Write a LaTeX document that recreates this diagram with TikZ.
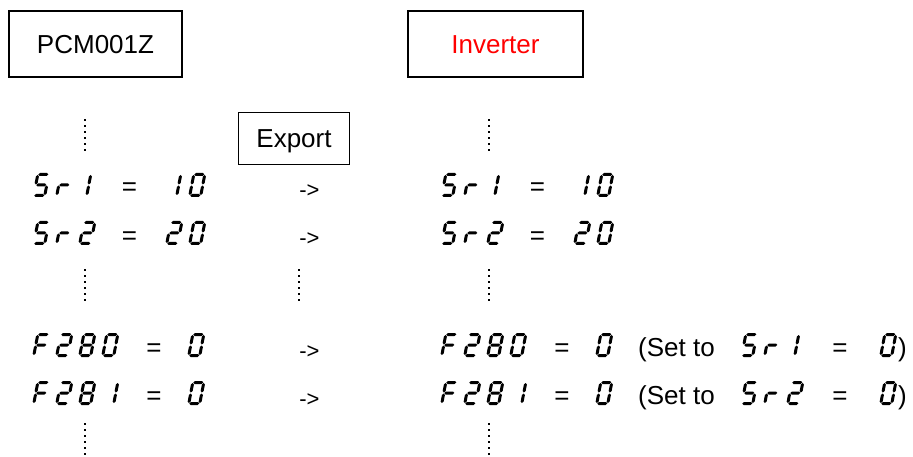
\documentclass[tikz,border=0pt]{standalone}
\usepackage{fontspec}
\setmainfont{Liberation Sans}
% seven-segment pieces (local units, y up, cell 14 x 24)
\newcommand\hsegm[3]{\fill (#1,#3) -- ({#1+1.5},{#3+1.5}) -- ({#2-1.5},{#3+1.5}) -- (#2,#3) -- ({#2-1.5},{#3-1.5}) -- ({#1+1.5},{#3-1.5}) -- cycle;}
\newcommand\vsegm[3]{\fill (#1,#2) -- ({#1+1.5},{#2+1.5}) -- ({#1+1.5},{#3-1.5}) -- (#1,#3) -- ({#1-1.5},{#3-1.5}) -- ({#1-1.5},{#2+1.5}) -- cycle;}
\newcommand\segparta{\hsegm{2.0}{12.0}{22.5}}
\newcommand\segpartb{\vsegm{12.5}{12.5}{22.0}}
\newcommand\segpartc{\vsegm{12.5}{2.0}{11.5}}
\newcommand\segpartd{\hsegm{2.0}{12.0}{1.5}}
\newcommand\segparte{\vsegm{1.5}{2.0}{11.5}}
\newcommand\segpartf{\vsegm{1.5}{12.5}{22.0}}
\newcommand\segpartg{\hsegm{2.0}{12.0}{12}}
\newcommand\sevseg[3]{\begin{scope}[shift={(#1,-#2)},xslant=0.19]\foreach \s in {#3}{\csname segpart\s\endcsname}\end{scope}}
\newcommand\segS[2]{\sevseg{#1}{#2}{a,f,g,c,d}}
\newcommand\segR[2]{\sevseg{#1}{#2}{e,g}}
\newcommand\segOne[2]{\sevseg{#1}{#2}{b,c}}
\newcommand\segTwo[2]{\sevseg{#1}{#2}{a,b,g,e,d}}
\newcommand\segZero[2]{\sevseg{#1}{#2}{a,b,c,d,e,f}}
\newcommand\segEight[2]{\sevseg{#1}{#2}{a,b,c,d,e,f,g}}
\newcommand\segF[2]{\sevseg{#1}{#2}{a,f,g,e}}
\newcommand\dotcol[2]{\foreach \k in {0,...,5}{\fill ({#1-1.3},{-(#2+6*\k-1.3)}) rectangle ++(2.6,-2.6);}}
\begin{document}
\begin{tikzpicture}[x=1pt,y=1pt,
  big/.style={font=\fontsize{26}{30}\selectfont},
  box/.style={big, draw, line width=2.2pt, minimum width=173pt, minimum height=66pt, inner sep=0pt, text height=18.6pt, text depth=0pt},
  smallbox/.style={big, draw, line width=1pt, minimum width=111pt, minimum height=52pt, inner sep=0pt, text height=18.6pt, text depth=0pt},
  eq/.style={big, anchor=base, inner sep=0pt},
  lbl/.style={big, anchor=base west, inner sep=0pt},
  arr/.style={font=\fontsize{22}{26}\selectfont, anchor=base, inner sep=0pt}]
\fill[white] (0,0) rectangle (913,-457);
\useasboundingbox (0,0) rectangle (913,-457);

\node[box] (pcm) at (95.5,-44) {PCM001Z};
\node[box, minimum width=175pt, text=red] (inv) at (495.5,-44) {Inverter};
\node[smallbox] (exp) at (294,-138.5) {Export};

% dotted columns
\dotcol{85}{120}
\dotcol{489}{120}
\dotcol{85}{270}
\dotcol{299}{270}
\dotcol{489}{270}
\dotcol{85}{424}
\dotcol{489}{424}

% row 1: Sr1 = 10
\segS{32}{197}\segR{55}{197}\segOne{74}{197}
\node[eq] (eqa) at (129.5,-196) {=};
\segOne{164}{197}\segZero{188}{197}
\node[arr] (arra) at (309.5,-198) {->};
\segS{440}{197}\segR{463}{197}\segOne{482}{197}
\node[eq] (eqar) at (537.5,-196) {=};
\segOne{572}{197}\segZero{596}{197}

% row 2: Sr2 = 20
\segS{32}{245}\segR{55}{245}\segTwo{78}{245}
\node[eq] (eqb) at (129.5,-244) {=};
\segTwo{165}{245}\segZero{188}{245}
\node[arr] (arrb) at (309.5,-246) {->};
\segS{440}{245}\segR{463}{245}\segTwo{486}{245}
\node[eq] (eqbr) at (537.5,-244) {=};
\segTwo{573}{245}\segZero{596}{245}

% row 3: F280 = 0
\segF{32}{357}\segTwo{55}{357}\segEight{78}{357}\segZero{101}{357}
\node[eq] (eqc) at (154,-356) {=};
\segZero{187}{357}
\node[arr] (arrc) at (309.5,-358) {->};
\segF{440}{357}\segTwo{463}{357}\segEight{486}{357}\segZero{509}{357}
\node[eq] (eqcr) at (562,-356) {=};
\segZero{595}{357}
\node[lbl] (setc) at (638,-356) {(Set to};
\segS{740}{357}\segR{763}{357}\segOne{782}{357}
\node[eq] (eqcs) at (840,-356) {=};
\segZero{879}{357}
\node[lbl] (parc) at (898,-356) {)};

% row 4: F281 = 0
\segF{32}{405}\segTwo{55}{405}\segEight{78}{405}\segOne{101}{405}
\node[eq] (eqd) at (154,-404) {=};
\segZero{187}{405}
\node[arr] (arrd) at (309.5,-406) {->};
\segF{440}{405}\segTwo{463}{405}\segEight{486}{405}\segOne{509}{405}
\node[eq] (eqdr) at (562,-404) {=};
\segZero{595}{405}
\node[lbl] (setd) at (638,-404) {(Set to};
\segS{740}{405}\segR{763}{405}\segTwo{786}{405}
\node[eq] (eqds) at (840,-404) {=};
\segZero{879}{405}
\node[lbl] (pard) at (898,-404) {)};
\end{tikzpicture}
\end{document}
